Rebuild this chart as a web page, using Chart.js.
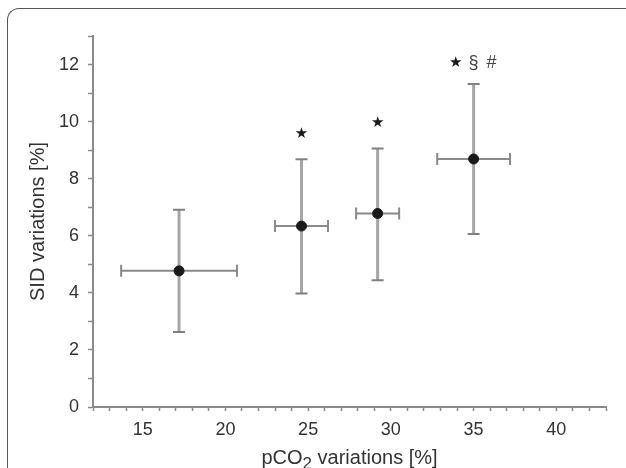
<!DOCTYPE html>
<html>
<head>
<meta charset="utf-8">
<script src="https://cdn.jsdelivr.net/npm/chart.js@4.4.0/dist/chart.umd.min.js"></script>
<style>
  html, body { margin: 0; padding: 0; background: #fff; }
  #wrap { position: relative; width: 626px; height: 468px; overflow: hidden; }
  #frame {
    position: absolute; left: 7px; top: 8px; width: 640px; height: 480px;
    border-top: 1.5px solid #555; border-left: 1.5px solid #555;
    border-top-left-radius: 12px;
  }
  canvas { position: absolute; left: 0; top: 0; }
</style>
</head>
<body>
<div id="wrap">
  <div id="frame"></div>
  <canvas id="myChart" width="626" height="468"></canvas>
</div>
<script>
// mean values
var pco2 = [17.2, 24.6, 29.2, 35.0];
var sid = [4.77, 6.34, 6.78, 8.69];
// error bar ends
var pco2Lo = [13.7, 23.0, 27.9, 32.8];
var pco2Hi = [20.7, 26.2, 30.5, 37.2];
var sidLo = [2.63, 3.98, 4.44, 6.06];
var sidHi = [6.91, 8.68, 9.06, 11.32];
// significance marks above each point
var marks = [[], ['★'], ['★'], ['★', '§', '#']];

var points = [];
for (var i = 0; i < pco2.length; i++) {
    points.push({ x: pco2[i], y: sid[i] });
}

var font = "'Liberation Sans', Arial, sans-serif";

var errorBars = {
    id: 'errorBars',
    // bars under the points
    beforeDatasetsDraw: function (chart) {
        var ctx = chart.ctx;
        var xs = chart.scales.x, ys = chart.scales.y;
        ctx.save();
        for (var i = 0; i < pco2.length; i++) {
            var cx = xs.getPixelForValue(pco2[i]);
            var cy = ys.getPixelForValue(sid[i]);
            var x1 = xs.getPixelForValue(pco2Lo[i]);
            var x2 = xs.getPixelForValue(pco2Hi[i]);
            var y1 = ys.getPixelForValue(sidLo[i]);
            var y2 = ys.getPixelForValue(sidHi[i]);
            // vertical
            ctx.strokeStyle = '#a6a6a6';
            ctx.lineWidth = 3;
            ctx.beginPath();
            ctx.moveTo(cx, y1); ctx.lineTo(cx, y2);
            ctx.stroke();
            ctx.strokeStyle = '#808080';
            ctx.lineWidth = 2;
            ctx.beginPath();
            ctx.moveTo(cx - 6, y1); ctx.lineTo(cx + 6, y1);
            ctx.moveTo(cx - 6, y2); ctx.lineTo(cx + 6, y2);
            ctx.stroke();
            // horizontal
            ctx.strokeStyle = '#8a8a8a';
            ctx.lineWidth = 2;
            ctx.beginPath();
            ctx.moveTo(x1, cy); ctx.lineTo(x2, cy);
            ctx.moveTo(x1, cy - 6); ctx.lineTo(x1, cy + 6);
            ctx.moveTo(x2, cy - 6); ctx.lineTo(x2, cy + 6);
            ctx.stroke();
        }
        ctx.restore();
    },
    afterDatasetsDraw: function (chart) {
        var ctx = chart.ctx;
        var xs = chart.scales.x, ys = chart.scales.y;
        ctx.save();
        ctx.textAlign = 'center';
        ctx.textBaseline = 'middle';
        for (var i = 0; i < marks.length; i++) {
            var m = marks[i];
            if (!m.length) continue;
            var cx = xs.getPixelForValue(pco2[i]);
            var top = ys.getPixelForValue(sidHi[i]);
            var gap = 18;
            var start = cx - (m.length - 1) * gap / 2;
            for (var k = 0; k < m.length; k++) {
                if (m[k] === '★') {
                    ctx.font = '15px DejaVu Sans, sans-serif';
                    ctx.fillStyle = '#1a1a1a';
                } else {
                    ctx.font = '18px ' + font;
                    ctx.fillStyle = '#444';
                }
                ctx.fillText(m[k], start + k * gap, top - (m.length > 1 ? 21 : 25));
            }
        }
        // x title with subscript
        var mid = (chart.chartArea.left + chart.chartArea.right) / 2;
        var parts = [['pCO', 20, 0], ['2', 17, 5], [' variations [%]', 20, 0]];
        var w = 0;
        for (var p = 0; p < parts.length; p++) {
            ctx.font = parts[p][1] + 'px ' + font;
            w += ctx.measureText(parts[p][0]).width;
        }
        var x = mid - w / 2;
        ctx.textAlign = 'left';
        ctx.textBaseline = 'alphabetic';
        ctx.fillStyle = '#333';
        for (var p = 0; p < parts.length; p++) {
            ctx.font = parts[p][1] + 'px ' + font;
            ctx.fillText(parts[p][0], x, 464 + parts[p][2]);
            x += ctx.measureText(parts[p][0]).width;
        }
        ctx.restore();
    }
};

var ctx = document.getElementById('myChart').getContext('2d');
var chart = new Chart(ctx, {
    type: 'scatter',
    data: {
        datasets: [{
            data: points,
            backgroundColor: '#1a1a1a',
            borderColor: '#1a1a1a',
            pointRadius: 5,
            pointHoverRadius: 5
        }]
    },
    options: {
        responsive: false,
        animation: false,
        devicePixelRatio: 1,
        layout: { padding: { left: 0, top: 36, right: 20, bottom: 0 } },
        plugins: { legend: { display: false }, tooltip: { enabled: false } },
        scales: {
            x: {
                type: 'linear',
                min: 12, max: 43,
                afterFit: function (s) { s.height = 61; },
                border: { display: true, color: '#8a8a8a', width: 2 },
                grid: { drawOnChartArea: false, drawTicks: true, tickLength: 4, tickColor: '#8a8a8a', tickWidth: 1.5 },
                ticks: {
                    stepSize: 1, autoSkip: false, maxRotation: 0, padding: 8,
                    color: '#333', font: { family: font, size: 18 },
                    callback: function (v) { return v % 5 === 0 ? v : ''; }
                },
                title: { display: false }
            },
            y: {
                min: 0, max: 13,
                afterFit: function (s) { s.width = 93; },
                border: { display: true, color: '#8a8a8a', width: 2 },
                grid: { drawOnChartArea: false, drawTicks: true, tickLength: 5, tickColor: '#8a8a8a', tickWidth: 1.5 },
                ticks: {
                    stepSize: 1, autoSkip: false, padding: 9,
                    color: '#333', font: { family: font, size: 18 },
                    callback: function (v) { return v % 2 === 0 ? v : ''; }
                },
                title: {
                    display: true, text: 'SID variations [%]', color: '#333',
                    font: { family: font, size: 20, lineHeight: 1 }, padding: { top: 28, bottom: 0 }
                }
            }
        }
    },
    plugins: [errorBars]
});
</script>
</body>
</html>
